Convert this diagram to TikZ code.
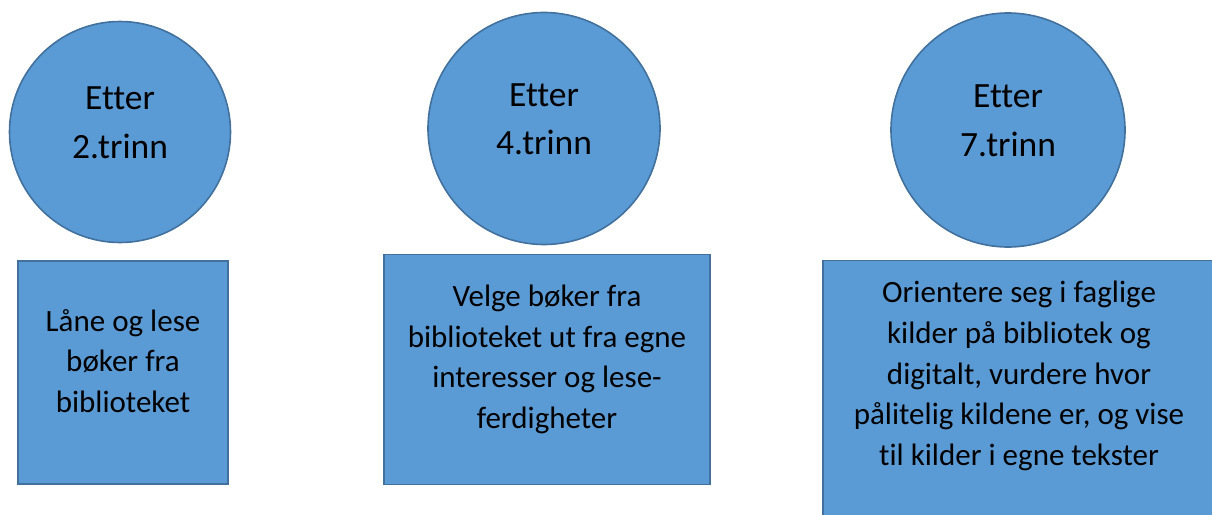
\documentclass[tikz,border=0pt]{standalone}
\usepackage{fontspec}
\setmainfont{Carlito}[Ligatures=NoCommon]
\usetikzlibrary{positioning}
\definecolor{ofill}{HTML}{5B9BD5}
\definecolor{oline}{HTML}{41719C}

\begin{document}
\begin{tikzpicture}[
  x=1pt,y=-1pt,
  lift/.style={execute at end node={\rule[-#1]{0pt}{#1}}},
  disc/.style={circle,draw=oline,fill=ofill,line width=1.6pt,inner sep=0pt,minimum size=#1,
    align=center,font=\fontsize{35.5}{48.5}\selectfont,lift=19pt},
  goal/.style={draw=oline,fill=ofill,line width=1.6pt,inner sep=0pt,align=center,
    font=\fontsize{31}{40.7}\selectfont}
]
\useasboundingbox (0,0) rectangle (1212,514);
\clip (0,0) rectangle (1212,514);
\node[disc=221pt] (e2) at (120,132)   {Etter\\2.trinn};
\node[disc=232pt] (e4) at (544,128.5) {Etter\\4.trinn};
\node[disc=234pt] (e7) at (1008,130)  {Etter\\7.trinn};
\node[goal,below=17pt of e2,xshift=3pt,minimum width=210pt,minimum height=223pt,lift=23.7pt] (g2)
  {Låne og lese\\bøker fra\\biblioteket};
\node[goal,below=8.5pt of e4,xshift=3pt,minimum width=326pt,minimum height=230pt,lift=25.7pt] (g4)
  {Velge bøker fra\\biblioteket ut fra egne\\interesser og lese-\\ferdigheter};
\node[goal,below=12pt of e7,xshift=11pt,minimum width=392pt,minimum height=261pt,lift=35.3pt] (g7)
  {Orientere seg i faglige\\kilder på bibliotek og\\digitalt, vurdere hvor\\pålitelig kildene er, og vise\\til kilder i egne tekster};
\end{tikzpicture}
\end{document}
